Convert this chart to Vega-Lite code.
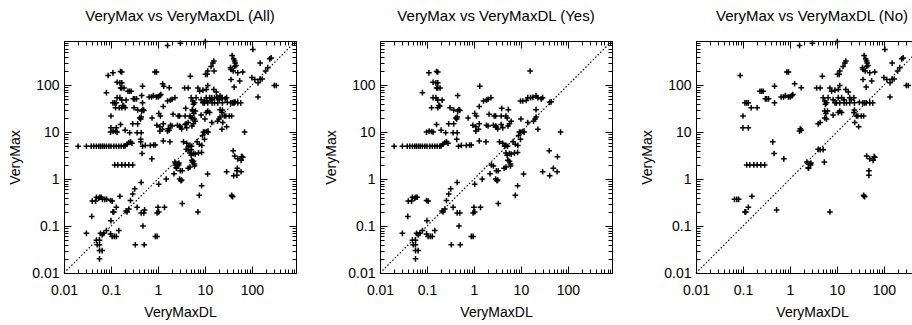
{
 "$schema": "https://vega.github.io/schema/vega-lite/v6.json",
 "padding": {"left": 8, "top": 8, "right": 0, "bottom": 0},
 "background": "white",
 "spacing": 25,
 "config": {
  "font": "Liberation Sans",
  "view": {"stroke": "black", "strokeWidth": 1},
  "title": {"fontSize": 15, "fontWeight": "normal", "color": "black", "offset": 12, "anchor": "middle"},
  "axis": {"grid": false, "domainColor": "black", "tickColor": "black", "labelColor": "black", "titleColor": "black", "labelFontSize": 14, "titleFontSize": 14, "titleFontWeight": "normal", "labelOverlap": false, "labelBound": false, "labelFlush": false}
 },
 "datasets": {
  "diag": [{"v": 0.01}, {"v": 870}],
  "pts": [
   {"x":0.02,"y":5,"g":"Y"},{"x":0.03,"y":5,"g":"Y"},{"x":0.038,"y":5,"g":"Y"},{"x":0.043,"y":5,"g":"Y"},{"x":0.049,"y":5,"g":"Y"},{"x":0.055,"y":5,"g":"Y"},{"x":0.06,"y":5,"g":"Y"},{"x":0.066,"y":5,"g":"Y"},{"x":0.072,"y":5,"g":"Y"},{"x":0.08,"y":5,"g":"Y"},{"x":0.09,"y":5,"g":"Y"},{"x":0.1,"y":5,"g":"Y"},{"x":0.115,"y":5,"g":"Y"},{"x":0.13,"y":5,"g":"Y"},{"x":0.147,"y":5,"g":"Y"},{"x":0.165,"y":5,"g":"Y"},{"x":0.187,"y":5,"g":"Y"},{"x":0.2,"y":5.1,"g":"Y"},
   {"x":0.22,"y":5.5,"g":"Y"},{"x":0.24,"y":6,"g":"Y"},{"x":0.26,"y":6.2,"g":"Y"},{"x":0.28,"y":5.8,"g":"Y"},
   {"x":0.43,"y":7,"g":"Y"},{"x":0.47,"y":5,"g":"Y"},{"x":0.54,"y":5.2,"g":"Y"},{"x":0.69,"y":5.2,"g":"Y"},{"x":0.81,"y":5.3,"g":"Y"},{"x":0.88,"y":5.3,"g":"Y"},
   {"x":0.25,"y":9.7,"g":"Y"},{"x":0.36,"y":9.7,"g":"Y"},{"x":0.44,"y":9.7,"g":"Y"},
   {"x":0.098,"y":10,"g":"Y"},{"x":0.111,"y":10.5,"g":"Y"},{"x":0.125,"y":10.3,"g":"Y"},{"x":0.135,"y":10,"g":"Y"},
   {"x":0.16,"y":14.5,"g":"Y"},{"x":0.2,"y":11,"g":"Y"},{"x":0.29,"y":15,"g":"Y"},
   {"x":0.37,"y":15,"g":"Y"},{"x":0.41,"y":20,"g":"Y"},{"x":0.43,"y":19,"g":"Y"},{"x":0.44,"y":21,"g":"Y"},
   {"x":0.45,"y":60,"g":"Y"},{"x":0.45,"y":28,"g":"Y"},{"x":0.48,"y":30,"g":"Y"},{"x":0.5,"y":29,"g":"Y"},
   {"x":0.31,"y":33,"g":"Y"},{"x":0.37,"y":29.5,"g":"Y"},
   {"x":0.125,"y":33,"g":"Y"},{"x":0.17,"y":33,"g":"Y"},{"x":0.18,"y":37,"g":"Y"},{"x":0.187,"y":36,"g":"Y"},{"x":0.21,"y":48,"g":"Y"},{"x":0.17,"y":48,"g":"Y"},
   {"x":0.135,"y":54,"g":"Y"},{"x":0.155,"y":54,"g":"Y"},{"x":0.08,"y":69,"g":"Y"},
   {"x":0.16,"y":87,"g":"Y"},{"x":0.17,"y":87,"g":"Y"},{"x":0.19,"y":87,"g":"Y"},
   {"x":0.135,"y":115,"g":"Y"},{"x":0.155,"y":112,"g":"Y"},{"x":0.17,"y":112,"g":"Y"},
   {"x":0.11,"y":183,"g":"Y"},{"x":0.16,"y":195,"g":"Y"},{"x":0.17,"y":190,"g":"Y"},
   {"x":0.75,"y":20,"g":"Y"},{"x":1.13,"y":22,"g":"Y"},{"x":1.04,"y":25,"g":"Y"},
   {"x":0.95,"y":14,"g":"Y"},{"x":1.1,"y":13,"g":"Y"},{"x":1.3,"y":15,"g":"Y"},
   {"x":1.33,"y":95,"g":"Y"},
   {"x":1.6,"y":46,"g":"Y"},{"x":1.85,"y":48,"g":"Y"},{"x":2.0,"y":50,"g":"Y"},{"x":2.3,"y":54,"g":"Y"},
   {"x":1.3,"y":35,"g":"Y"},{"x":2.1,"y":24,"g":"Y"},{"x":2.7,"y":22,"g":"Y"},
   {"x":1.85,"y":14,"g":"Y"},{"x":2.0,"y":13.5,"g":"Y"},{"x":2.6,"y":14,"g":"Y"},{"x":2.9,"y":13.5,"g":"Y"},
   {"x":1.25,"y":11.5,"g":"Y"},{"x":1.1,"y":10.5,"g":"Y"},
   {"x":1.3,"y":6.5,"g":"Y"},{"x":1.8,"y":6.2,"g":"Y"},
   {"x":15.7,"y":200,"g":"Y"},
   {"x":9.8,"y":46,"g":"Y"},{"x":11,"y":46,"g":"Y"},{"x":13,"y":47,"g":"Y"},{"x":14,"y":54,"g":"Y"},{"x":16,"y":54,"g":"Y"},{"x":18,"y":55,"g":"Y"},{"x":21,"y":59,"g":"Y"},{"x":23,"y":54,"g":"Y"},{"x":27,"y":51,"g":"Y"},{"x":29,"y":54,"g":"Y"},
   {"x":41,"y":43,"g":"Y"},{"x":44,"y":44,"g":"Y"},
   {"x":3.9,"y":32,"g":"Y"},{"x":5.4,"y":30,"g":"Y"},
   {"x":2.9,"y":22,"g":"Y"},{"x":3.8,"y":22,"g":"Y"},{"x":4.8,"y":22,"g":"Y"},{"x":5.1,"y":20,"g":"Y"},
   {"x":6.2,"y":17,"g":"Y"},{"x":5.7,"y":15,"g":"Y"},{"x":5.3,"y":13.5,"g":"Y"},
   {"x":10,"y":19,"g":"Y"},{"x":14,"y":16,"g":"Y"},
   {"x":18.6,"y":17,"g":"Y"},{"x":20,"y":19,"g":"Y"},{"x":21,"y":21,"g":"Y"},{"x":21,"y":30,"g":"Y"},{"x":23,"y":11.5,"g":"Y"},
   {"x":3.8,"y":14.5,"g":"Y"},{"x":4.1,"y":12.3,"g":"Y"},{"x":3.2,"y":11.7,"g":"Y"},{"x":3.0,"y":12.8,"g":"Y"},
   {"x":9.3,"y":10,"g":"Y"},{"x":10,"y":10,"g":"Y"},{"x":11,"y":10.3,"g":"Y"},{"x":11.7,"y":10,"g":"Y"},
   {"x":8.9,"y":8.5,"g":"Y"},{"x":9.8,"y":7,"g":"Y"},{"x":70,"y":10,"g":"Y"},
   {"x":3.5,"y":6.2,"g":"Y"},{"x":4.1,"y":5.8,"g":"Y"},{"x":4.5,"y":5,"g":"Y"},{"x":4.8,"y":5.2,"g":"Y"},{"x":5.2,"y":5,"g":"Y"},
   {"x":6.8,"y":6.2,"g":"Y"},{"x":7.6,"y":5.5,"g":"Y"},{"x":8.6,"y":5.2,"g":"Y"},
   {"x":4.8,"y":3.6,"g":"Y"},{"x":5.7,"y":3.5,"g":"Y"},{"x":6.2,"y":3.4,"g":"Y"},{"x":7.3,"y":3.6,"g":"Y"},{"x":8.5,"y":3.7,"g":"Y"},
   {"x":40,"y":4.0,"g":"Y"},
   {"x":3.3,"y":1.5,"g":"Y"},{"x":4.4,"y":1.7,"g":"Y"},{"x":4.8,"y":1.8,"g":"Y"},{"x":3.2,"y":0.95,"g":"Y"},
   {"x":3.3,"y":0.3,"g":"Y"},{"x":7.6,"y":0.45,"g":"Y"},{"x":8.5,"y":0.72,"g":"Y"},{"x":11.4,"y":1.28,"g":"Y"},
   {"x":29,"y":1.43,"g":"Y"},{"x":41,"y":1.18,"g":"Y"},{"x":49,"y":1.69,"g":"Y"},{"x":59,"y":1.43,"g":"Y"},
   {"x":60,"y":3.0,"g":"Y"},
   {"x":5.1,"y":3.2,"g":"Y"},{"x":5.3,"y":2.5,"g":"Y"},{"x":5.7,"y":2.4,"g":"Y"},{"x":6,"y":2.1,"g":"Y"},{"x":6,"y":1.9,"g":"Y"},
   {"x":2.35,"y":2.0,"g":"Y"},{"x":2.6,"y":1.9,"g":"Y"},{"x":1.5,"y":1.0,"g":"Y"},{"x":1.04,"y":0.78,"g":"Y"},{"x":2.2,"y":1.3,"g":"Y"},
   {"x":3.0,"y":1.5,"g":"Y"},{"x":3.1,"y":0.92,"g":"Y"},{"x":2.9,"y":1.0,"g":"Y"},
   {"x":0.44,"y":0.85,"g":"Y"},{"x":0.29,"y":0.48,"g":"Y"},{"x":0.32,"y":0.62,"g":"Y"},{"x":0.26,"y":0.35,"g":"Y"},
   {"x":0.21,"y":0.21,"g":"Y"},{"x":0.24,"y":0.23,"g":"Y"},{"x":0.22,"y":0.2,"g":"Y"},{"x":0.36,"y":0.25,"g":"Y"},
   {"x":0.44,"y":0.19,"g":"Y"},{"x":0.5,"y":0.19,"g":"Y"},{"x":0.48,"y":0.1,"g":"Y"},
   {"x":0.33,"y":0.04,"g":"Y"},{"x":0.51,"y":0.04,"g":"Y"},{"x":0.88,"y":0.06,"g":"Y"},{"x":0.96,"y":0.06,"g":"Y"},
   {"x":0.96,"y":0.19,"g":"Y"},{"x":1.04,"y":0.2,"g":"Y"},{"x":1.0,"y":0.25,"g":"Y"},{"x":1.38,"y":0.25,"g":"Y"},
   {"x":0.049,"y":0.41,"g":"Y"},{"x":0.055,"y":0.39,"g":"Y"},{"x":0.058,"y":0.41,"g":"Y"},{"x":0.047,"y":0.34,"g":"Y"},{"x":0.062,"y":0.41,"g":"Y"},
   {"x":0.04,"y":0.34,"g":"Y"},{"x":0.098,"y":0.35,"g":"Y"},{"x":0.106,"y":0.34,"g":"Y"},{"x":0.039,"y":0.16,"g":"Y"},
   {"x":0.03,"y":0.07,"g":"Y"},{"x":0.06,"y":0.07,"g":"Y"},{"x":0.065,"y":0.065,"g":"Y"},{"x":0.07,"y":0.07,"g":"Y"},
   {"x":0.049,"y":0.05,"g":"Y"},{"x":0.057,"y":0.05,"g":"Y"},{"x":0.051,"y":0.04,"g":"Y"},{"x":0.057,"y":0.04,"g":"Y"},
   {"x":0.057,"y":0.03,"g":"Y"},{"x":0.065,"y":0.03,"g":"Y"},{"x":0.057,"y":0.02,"g":"Y"},{"x":0.08,"y":0.08,"g":"Y"},
   {"x":0.098,"y":0.068,"g":"Y"},{"x":0.106,"y":0.06,"g":"Y"},{"x":0.118,"y":0.06,"g":"Y"},{"x":0.13,"y":0.06,"g":"Y"},
   {"x":0.1,"y":0.13,"g":"Y"},{"x":0.147,"y":0.08,"g":"Y"},

   {"x":1.6,"y":700,"g":"N"},{"x":3.0,"y":780,"g":"N"},{"x":10.2,"y":850,"g":"N"},{"x":105,"y":575,"g":"N"},
   {"x":0.087,"y":160,"g":"N"},{"x":0.86,"y":190,"g":"N"},{"x":0.93,"y":190,"g":"N"},{"x":0.47,"y":95,"g":"N"},{"x":1.26,"y":107,"g":"N"},{"x":1.74,"y":88,"g":"N"},
   {"x":0.23,"y":74,"g":"N"},{"x":0.25,"y":74,"g":"N"},{"x":0.27,"y":74,"g":"N"},
   {"x":0.3,"y":51,"g":"N"},{"x":0.32,"y":51,"g":"N"},{"x":0.35,"y":51,"g":"N"},{"x":0.47,"y":42,"g":"N"},
   {"x":0.65,"y":56,"g":"N"},{"x":0.73,"y":56,"g":"N"},{"x":0.8,"y":60,"g":"N"},
   {"x":0.93,"y":56,"g":"N"},{"x":1.01,"y":56,"g":"N"},{"x":1.1,"y":60,"g":"N"},{"x":1.15,"y":63,"g":"N"},
   {"x":0.11,"y":42,"g":"N"},{"x":0.12,"y":42,"g":"N"},{"x":0.13,"y":42,"g":"N"},
   {"x":0.15,"y":33,"g":"N"},{"x":0.2,"y":33,"g":"N"},{"x":0.1,"y":22,"g":"N"},{"x":0.1,"y":12.3,"g":"N"},{"x":0.13,"y":12.3,"g":"N"},
   {"x":0.43,"y":6.2,"g":"N"},{"x":0.46,"y":3.5,"g":"N"},
   {"x":1.66,"y":11.8,"g":"N"},{"x":1.74,"y":11,"g":"N"},{"x":1.6,"y":10.5,"g":"N"},
   {"x":0.12,"y":2,"g":"N"},{"x":0.14,"y":2,"g":"N"},{"x":0.17,"y":2,"g":"N"},{"x":0.2,"y":2,"g":"N"},{"x":0.24,"y":2,"g":"N"},{"x":0.29,"y":2,"g":"N"},
   {"x":0.066,"y":0.37,"g":"N"},{"x":0.074,"y":0.37,"g":"N"},{"x":0.081,"y":0.37,"g":"N"},
   {"x":0.155,"y":0.43,"g":"N"},{"x":0.13,"y":0.25,"g":"N"},{"x":0.11,"y":0.2,"g":"N"},{"x":0.115,"y":0.2,"g":"N"},{"x":0.52,"y":0.22,"g":"N"},
   {"x":0.74,"y":2.7,"g":"N"},{"x":2.45,"y":1.74,"g":"N"},{"x":2.75,"y":2.0,"g":"N"},
   {"x":257,"y":380,"g":"N"},{"x":240,"y":363,"g":"N"},{"x":150,"y":295,"g":"N"},
   {"x":38,"y":425,"g":"N"},{"x":41,"y":360,"g":"N"},{"x":43,"y":325,"g":"N"},{"x":44,"y":295,"g":"N"},{"x":43,"y":250,"g":"N"},{"x":46,"y":262,"g":"N"},
   {"x":35,"y":235,"g":"N"},{"x":36,"y":215,"g":"N"},{"x":40,"y":200,"g":"N"},
   {"x":15.5,"y":325,"g":"N"},{"x":14.8,"y":295,"g":"N"},{"x":13.5,"y":250,"g":"N"},
   {"x":11.5,"y":200,"g":"N"},{"x":10.3,"y":170,"g":"N"},{"x":11.2,"y":170,"g":"N"},
   {"x":50,"y":183,"g":"N"},{"x":64,"y":190,"g":"N"},{"x":55,"y":123,"g":"N"},{"x":36,"y":132,"g":"N"},{"x":42,"y":91,"g":"N"},
   {"x":100,"y":145,"g":"N"},{"x":115,"y":132,"g":"N"},
   {"x":135,"y":112,"g":"N"},{"x":150,"y":133,"g":"N"},{"x":166,"y":135,"g":"N"},{"x":196,"y":200,"g":"N"},{"x":218,"y":235,"g":"N"},
   {"x":300,"y":98,"g":"N"},{"x":330,"y":98,"g":"N"},{"x":135,"y":56,"g":"N"},
   {"x":4.9,"y":155,"g":"N"},{"x":3.7,"y":87,"g":"N"},{"x":4.4,"y":87,"g":"N"},
   {"x":7.1,"y":87,"g":"N"},{"x":7.7,"y":74,"g":"N"},{"x":9.1,"y":78,"g":"N"},
   {"x":11.5,"y":98,"g":"N"},{"x":10.7,"y":81,"g":"N"},{"x":15.5,"y":81,"g":"N"},{"x":17.5,"y":71,"g":"N"},
   {"x":5.1,"y":54,"g":"N"},{"x":5.5,"y":46,"g":"N"},{"x":5.7,"y":39,"g":"N"},{"x":6.0,"y":42,"g":"N"},
   {"x":6.5,"y":54,"g":"N"},{"x":8.3,"y":49,"g":"N"},{"x":10.7,"y":54,"g":"N"},{"x":12.6,"y":54,"g":"N"},{"x":14.2,"y":49,"g":"N"},{"x":18.7,"y":54,"g":"N"},{"x":20.3,"y":49,"g":"N"},{"x":23,"y":54,"g":"N"},
   {"x":9.1,"y":42,"g":"N"},{"x":9.8,"y":42,"g":"N"},{"x":11.5,"y":42,"g":"N"},{"x":14.2,"y":42,"g":"N"},{"x":16,"y":42,"g":"N"},{"x":18.7,"y":42,"g":"N"},{"x":23.6,"y":42,"g":"N"},{"x":30,"y":43,"g":"N"},{"x":35.6,"y":42,"g":"N"},{"x":38.6,"y":42,"g":"N"},{"x":42,"y":42,"g":"N"},{"x":50,"y":42,"g":"N"},{"x":58,"y":42,"g":"N"},
   {"x":5.5,"y":28,"g":"N"},{"x":5.8,"y":25,"g":"N"},{"x":6.3,"y":28,"g":"N"},
   {"x":11.5,"y":28,"g":"N"},{"x":12.6,"y":26,"g":"N"},{"x":10.7,"y":26,"g":"N"},{"x":8.3,"y":23,"g":"N"},
   {"x":23.6,"y":29.5,"g":"N"},{"x":23,"y":26,"g":"N"},{"x":5.5,"y":20,"g":"N"},{"x":6,"y":19,"g":"N"},{"x":4.4,"y":16,"g":"N"},{"x":4.0,"y":15,"g":"N"},
   {"x":26,"y":22,"g":"N"},{"x":28,"y":22,"g":"N"},{"x":33,"y":22,"g":"N"},{"x":37,"y":22,"g":"N"},{"x":24,"y":16,"g":"N"},{"x":29,"y":13,"g":"N"},
   {"x":4.0,"y":4.3,"g":"N"},{"x":4.4,"y":4.2,"g":"N"},{"x":5.1,"y":4.2,"g":"N"},
   {"x":43,"y":3.1,"g":"N"},{"x":62,"y":3.0,"g":"N"},
   {"x":2.3,"y":2.3,"g":"N"},{"x":2.7,"y":2.1,"g":"N"},{"x":2.8,"y":2.2,"g":"N"},{"x":2.5,"y":1.7,"g":"N"},{"x":5.4,"y":2.3,"g":"N"},
   {"x":50,"y":2.7,"g":"N"},{"x":59,"y":2.5,"g":"N"},{"x":64,"y":2.9,"g":"N"},{"x":48,"y":1.5,"g":"N"},{"x":48,"y":1.2,"g":"N"},
   {"x":38,"y":0.43,"g":"N"},{"x":37,"y":0.45,"g":"N"},{"x":39,"y":0.42,"g":"N"},{"x":7.1,"y":0.2,"g":"N"}
  ]
 },
 "hconcat": [
  {
   "title": "VeryMax vs VeryMaxDL (All)",
   "width": 232, "height": 232,
   "resolve": {"axis": {"x": "independent", "y": "independent"}},
   "layer": [
    {
     "data": {"name": "pts"},
     "mark": {"type": "point", "shape": "M-1,0H1M0,-1V1", "size": 32, "filled": false, "stroke": "black", "strokeWidth": 1.5, "opacity": 1},
     "encoding": {
      "x": {"field": "x", "type": "quantitative", "scale": {"type": "log", "domain": [0.01, 870]}, "axis": {"orient": "bottom", "title": "VeryMaxDL", "titlePadding": 5, "values": [0.01,0.02,0.03,0.04,0.05,0.06,0.07,0.08,0.09,0.1,0.2,0.3,0.4,0.5,0.6,0.7,0.8,0.9,1,2,3,4,5,6,7,8,9,10,20,30,40,50,60,70,80,90,100,200,300,400,500,600,700,800], "format": "~g", "labelExpr": "abs(log(datum.value)/LN10 - round(log(datum.value)/LN10)) < 0.001 ? datum.label : ''", "tickSize": {"condition": {"test": "abs(log(datum.value)/LN10 - round(log(datum.value)/LN10)) < 0.001", "value": -7}, "value": -4}, "labelPadding": 17}},
      "y": {"field": "y", "type": "quantitative", "scale": {"type": "log", "domain": [0.01, 870]}, "axis": {"orient": "left", "title": "VeryMax", "titlePadding": 9, "values": [0.01,0.02,0.03,0.04,0.05,0.06,0.07,0.08,0.09,0.1,0.2,0.3,0.4,0.5,0.6,0.7,0.8,0.9,1,2,3,4,5,6,7,8,9,10,20,30,40,50,60,70,80,90,100,200,300,400,500,600,700,800], "format": "~g", "labelExpr": "abs(log(datum.value)/LN10 - round(log(datum.value)/LN10)) < 0.001 ? datum.label : ''", "tickSize": {"condition": {"test": "abs(log(datum.value)/LN10 - round(log(datum.value)/LN10)) < 0.001", "value": -7}, "value": -4}, "labelPadding": 12}}
     }
    },
    {
     "data": {"name": "diag"},
     "mark": {"type": "line", "stroke": "black", "strokeWidth": 1.2, "strokeDash": [1.5, 2]},
     "encoding": {
      "x": {"field": "v", "type": "quantitative", "scale": {"type": "log", "domain": [0.01, 870]}, "axis": {"orient": "top", "title": null, "labels": false, "values": [0.01,0.02,0.03,0.04,0.05,0.06,0.07,0.08,0.09,0.1,0.2,0.3,0.4,0.5,0.6,0.7,0.8,0.9,1,2,3,4,5,6,7,8,9,10,20,30,40,50,60,70,80,90,100,200,300,400,500,600,700,800], "tickSize": {"condition": {"test": "abs(log(datum.value)/LN10 - round(log(datum.value)/LN10)) < 0.001", "value": -7}, "value": -4}, "minExtent": 0, "maxExtent": 0}},
      "y": {"field": "v", "type": "quantitative", "scale": {"type": "log", "domain": [0.01, 870]}, "axis": {"orient": "right", "title": null, "labels": false, "values": [0.01,0.02,0.03,0.04,0.05,0.06,0.07,0.08,0.09,0.1,0.2,0.3,0.4,0.5,0.6,0.7,0.8,0.9,1,2,3,4,5,6,7,8,9,10,20,30,40,50,60,70,80,90,100,200,300,400,500,600,700,800], "tickSize": {"condition": {"test": "abs(log(datum.value)/LN10 - round(log(datum.value)/LN10)) < 0.001", "value": -7}, "value": -4}, "minExtent": 0, "maxExtent": 0}}
     }
    }
   ]
  },
  {
   "title": "VeryMax vs VeryMaxDL (Yes)",
   "width": 232, "height": 232,
   "resolve": {"axis": {"x": "independent", "y": "independent"}},
   "layer": [
    {
     "data": {"name": "pts"},
     "transform": [{"filter": "datum.g == 'Y'"}],
     "mark": {"type": "point", "shape": "M-1,0H1M0,-1V1", "size": 32, "filled": false, "stroke": "black", "strokeWidth": 1.5, "opacity": 1},
     "encoding": {
      "x": {"field": "x", "type": "quantitative", "scale": {"type": "log", "domain": [0.01, 870]}, "axis": {"orient": "bottom", "title": "VeryMaxDL", "titlePadding": 5, "values": [0.01,0.02,0.03,0.04,0.05,0.06,0.07,0.08,0.09,0.1,0.2,0.3,0.4,0.5,0.6,0.7,0.8,0.9,1,2,3,4,5,6,7,8,9,10,20,30,40,50,60,70,80,90,100,200,300,400,500,600,700,800], "format": "~g", "labelExpr": "abs(log(datum.value)/LN10 - round(log(datum.value)/LN10)) < 0.001 ? datum.label : ''", "tickSize": {"condition": {"test": "abs(log(datum.value)/LN10 - round(log(datum.value)/LN10)) < 0.001", "value": -7}, "value": -4}, "labelPadding": 17}},
      "y": {"field": "y", "type": "quantitative", "scale": {"type": "log", "domain": [0.01, 870]}, "axis": {"orient": "left", "title": "VeryMax", "titlePadding": 9, "values": [0.01,0.02,0.03,0.04,0.05,0.06,0.07,0.08,0.09,0.1,0.2,0.3,0.4,0.5,0.6,0.7,0.8,0.9,1,2,3,4,5,6,7,8,9,10,20,30,40,50,60,70,80,90,100,200,300,400,500,600,700,800], "format": "~g", "labelExpr": "abs(log(datum.value)/LN10 - round(log(datum.value)/LN10)) < 0.001 ? datum.label : ''", "tickSize": {"condition": {"test": "abs(log(datum.value)/LN10 - round(log(datum.value)/LN10)) < 0.001", "value": -7}, "value": -4}, "labelPadding": 12}}
     }
    },
    {
     "data": {"name": "diag"},
     "mark": {"type": "line", "stroke": "black", "strokeWidth": 1.2, "strokeDash": [1.5, 2]},
     "encoding": {
      "x": {"field": "v", "type": "quantitative", "scale": {"type": "log", "domain": [0.01, 870]}, "axis": {"orient": "top", "title": null, "labels": false, "values": [0.01,0.02,0.03,0.04,0.05,0.06,0.07,0.08,0.09,0.1,0.2,0.3,0.4,0.5,0.6,0.7,0.8,0.9,1,2,3,4,5,6,7,8,9,10,20,30,40,50,60,70,80,90,100,200,300,400,500,600,700,800], "tickSize": {"condition": {"test": "abs(log(datum.value)/LN10 - round(log(datum.value)/LN10)) < 0.001", "value": -7}, "value": -4}, "minExtent": 0, "maxExtent": 0}},
      "y": {"field": "v", "type": "quantitative", "scale": {"type": "log", "domain": [0.01, 870]}, "axis": {"orient": "right", "title": null, "labels": false, "values": [0.01,0.02,0.03,0.04,0.05,0.06,0.07,0.08,0.09,0.1,0.2,0.3,0.4,0.5,0.6,0.7,0.8,0.9,1,2,3,4,5,6,7,8,9,10,20,30,40,50,60,70,80,90,100,200,300,400,500,600,700,800], "tickSize": {"condition": {"test": "abs(log(datum.value)/LN10 - round(log(datum.value)/LN10)) < 0.001", "value": -7}, "value": -4}, "minExtent": 0, "maxExtent": 0}}
     }
    }
   ]
  },
  {
   "title": "VeryMax vs VeryMaxDL (No)",
   "width": 232, "height": 232,
   "resolve": {"axis": {"x": "independent", "y": "independent"}},
   "layer": [
    {
     "data": {"name": "pts"},
     "transform": [{"filter": "datum.g == 'N'"}],
     "mark": {"type": "point", "shape": "M-1,0H1M0,-1V1", "size": 32, "filled": false, "stroke": "black", "strokeWidth": 1.5, "opacity": 1},
     "encoding": {
      "x": {"field": "x", "type": "quantitative", "scale": {"type": "log", "domain": [0.01, 870]}, "axis": {"orient": "bottom", "title": "VeryMaxDL", "titlePadding": 5, "values": [0.01,0.02,0.03,0.04,0.05,0.06,0.07,0.08,0.09,0.1,0.2,0.3,0.4,0.5,0.6,0.7,0.8,0.9,1,2,3,4,5,6,7,8,9,10,20,30,40,50,60,70,80,90,100,200,300,400,500,600,700,800], "format": "~g", "labelExpr": "abs(log(datum.value)/LN10 - round(log(datum.value)/LN10)) < 0.001 ? datum.label : ''", "tickSize": {"condition": {"test": "abs(log(datum.value)/LN10 - round(log(datum.value)/LN10)) < 0.001", "value": -7}, "value": -4}, "labelPadding": 17}},
      "y": {"field": "y", "type": "quantitative", "scale": {"type": "log", "domain": [0.01, 870]}, "axis": {"orient": "left", "title": "VeryMax", "titlePadding": 9, "values": [0.01,0.02,0.03,0.04,0.05,0.06,0.07,0.08,0.09,0.1,0.2,0.3,0.4,0.5,0.6,0.7,0.8,0.9,1,2,3,4,5,6,7,8,9,10,20,30,40,50,60,70,80,90,100,200,300,400,500,600,700,800], "format": "~g", "labelExpr": "abs(log(datum.value)/LN10 - round(log(datum.value)/LN10)) < 0.001 ? datum.label : ''", "tickSize": {"condition": {"test": "abs(log(datum.value)/LN10 - round(log(datum.value)/LN10)) < 0.001", "value": -7}, "value": -4}, "labelPadding": 12}}
     }
    },
    {
     "data": {"name": "diag"},
     "mark": {"type": "line", "stroke": "black", "strokeWidth": 1.2, "strokeDash": [1.5, 2]},
     "encoding": {
      "x": {"field": "v", "type": "quantitative", "scale": {"type": "log", "domain": [0.01, 870]}, "axis": {"orient": "top", "title": null, "labels": false, "values": [0.01,0.02,0.03,0.04,0.05,0.06,0.07,0.08,0.09,0.1,0.2,0.3,0.4,0.5,0.6,0.7,0.8,0.9,1,2,3,4,5,6,7,8,9,10,20,30,40,50,60,70,80,90,100,200,300,400,500,600,700,800], "tickSize": {"condition": {"test": "abs(log(datum.value)/LN10 - round(log(datum.value)/LN10)) < 0.001", "value": -7}, "value": -4}, "minExtent": 0, "maxExtent": 0}},
      "y": {"field": "v", "type": "quantitative", "scale": {"type": "log", "domain": [0.01, 870]}, "axis": {"orient": "right", "title": null, "labels": false, "values": [0.01,0.02,0.03,0.04,0.05,0.06,0.07,0.08,0.09,0.1,0.2,0.3,0.4,0.5,0.6,0.7,0.8,0.9,1,2,3,4,5,6,7,8,9,10,20,30,40,50,60,70,80,90,100,200,300,400,500,600,700,800], "tickSize": {"condition": {"test": "abs(log(datum.value)/LN10 - round(log(datum.value)/LN10)) < 0.001", "value": -7}, "value": -4}, "minExtent": 0, "maxExtent": 0}}
     }
    }
   ]
  }
 ]
}
